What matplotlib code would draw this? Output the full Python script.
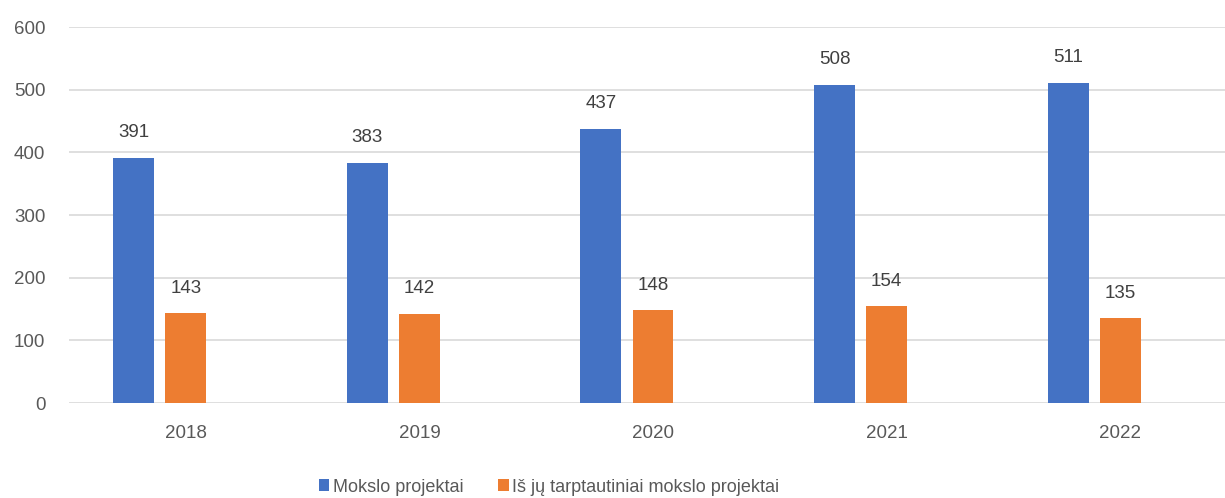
import matplotlib.pyplot as plt
import numpy as np

years = ['2018', '2019', '2020', '2021', '2022']
projects = [391, 383, 437, 508, 511]
international = [143, 142, 148, 154, 135]
series_names = ['Mokslo projektai', 'Iš jų tarptautiniai mokslo projektai']

plt.rcParams['font.family'] = ['Liberation Sans', 'DejaVu Sans']

fig = plt.figure(figsize=(12.25, 4.98), dpi=100)
W, H = 1225, 498
# plot area in pixels: left 69, right 1237 (cropped), zero at y=403, 600 at y=27
ax = fig.add_axes([69 / W, 1 - 403 / H, (1237 - 69) / W, (403 - 27) / H])

x = np.arange(len(years))
width = 0.175
offset = 0.223
b1 = ax.bar(x - offset, projects, width, color='#4472C4', label=series_names[0], zorder=3)
b2 = ax.bar(x, international, width, color='#ED7D31', label=series_names[1], zorder=3)

for bars in (b1, b2):
    for rect in bars:
        ax.annotate(f'{int(rect.get_height())}',
                    (rect.get_x() + rect.get_width() / 2, rect.get_height()),
                    xytext=(0, 12), textcoords='offset points',
                    ha='center', va='bottom', fontsize=13.5, color='#404040')

ax.set_xlim(-0.5, len(years) - 0.5)
ax.set_ylim(0, 600)
ax.set_yticks(range(0, 601, 100))
ax.set_xticks(x)
ax.set_xticklabels(years)
ax.yaxis.grid(True, color='#D9D9D9', linewidth=1.2, zorder=0)
for s in ax.spines.values():
    s.set_visible(False)
ax.tick_params(axis='both', length=0, labelsize=13.5, labelcolor='#595959')
ax.tick_params(axis='y', pad=17)
ax.tick_params(axis='x', pad=16)

fig.legend(handles=[b1, b2], loc='center', bbox_to_anchor=(549 / W, 1 - 487 / H),
           ncol=2, frameon=False, fontsize=13, labelcolor='#595959',
           handlelength=0.6, handleheight=0.6, handletextpad=0.2, columnspacing=1.9)

fig.savefig('out.png', dpi=100)
